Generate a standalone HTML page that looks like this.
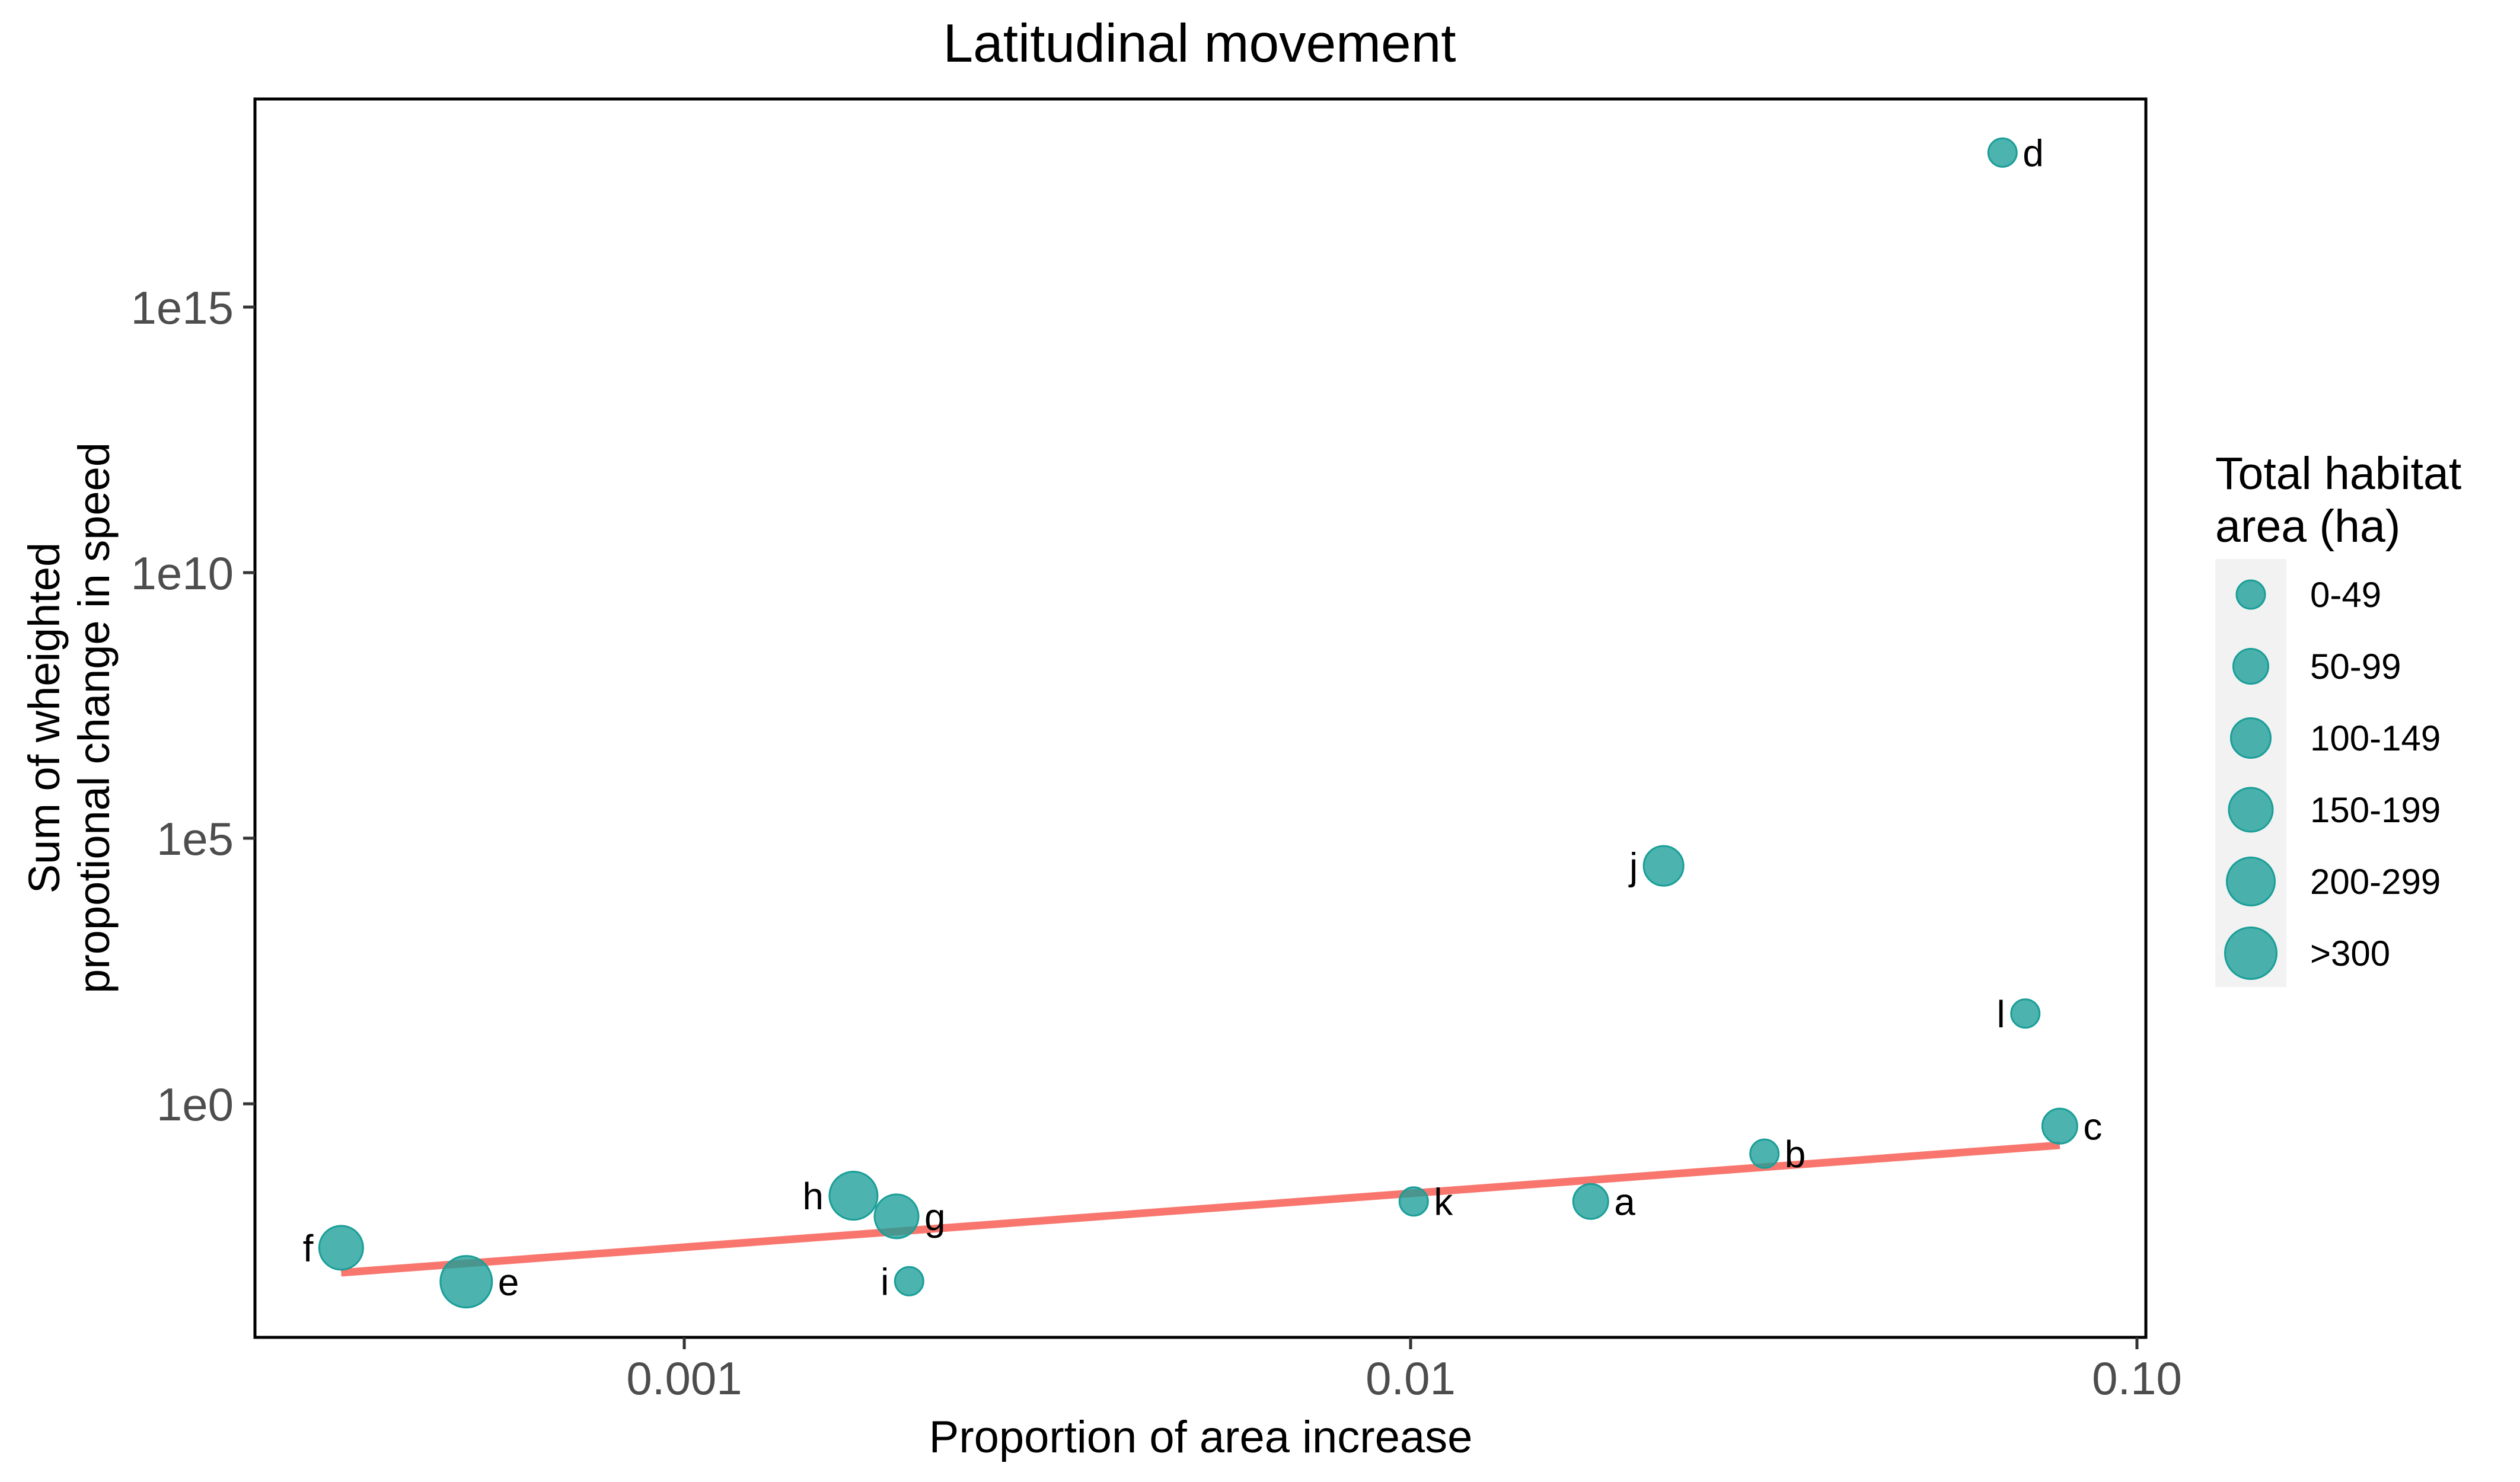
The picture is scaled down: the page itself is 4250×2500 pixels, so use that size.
<!DOCTYPE html>
<html><head><meta charset="utf-8"><style>
html,body{margin:0;padding:0;background:#fff;}
svg{display:block;font-family:"Liberation Sans",Arial,sans-serif;}
</style></head><body>
<svg id="chart" width="4250" height="2500" viewBox="0 0 4250 2500" xmlns="http://www.w3.org/2000/svg">
<rect x="0" y="0" width="4250" height="2500" fill="#fff"/>
<text x="2023" y="104" font-size="91" text-anchor="middle" fill="#000">Latitudinal movement</text>
<g id="marks"></g>
<rect x="430" y="167" width="3189" height="2089" fill="none" stroke="#000" stroke-width="5"/>
<g id="axes"></g>
<text x="2025" y="2450" font-size="76" text-anchor="middle" fill="#000">Proportion of area increase</text>
<g transform="translate(0,1211) rotate(-90)">
<text x="0" y="100" font-size="74" text-anchor="middle" fill="#000">Sum of wheighted</text>
<text x="0" y="184" font-size="74" text-anchor="middle" fill="#000">propotional change in speed</text>
</g>
<g id="legend">
<text x="3736" y="825" font-size="77" fill="#000">Total habitat</text>
<text x="3736" y="914" font-size="77" fill="#000">area (ha)</text>
<rect x="3736" y="943" width="120" height="722" fill="#f2f2f2"/>
</g>
<script>
const labels = ["a","b","c","d","e","f","g","h","i","j","k","l"];
const xValues = [0.0177,0.0307,0.0783,0.0653,0.000501,0.000337,0.00196,0.00171,0.00204,0.0223,0.0101,0.0702];
const yValues = [0.0145,0.115,0.38,8.1e17,4.47e-4,1.95e-3,7.6e-3,0.0186,4.57e-4,30200,0.0145,50];
const sizeClass = [1,0,1,0,5,3,3,4,0,2,0,0];
const labelSide = ["r","r","r","r","r","l","r","l","l","l","r","l"];
const sizeCategories = ["0-49","50-99","100-149","150-199","200-299",">300"];
const xTickValues = [0.001,0.01,0.1];
const xTickLabels = ["0.001","0.01","0.10"];
const yTickExponents = [0,5,10,15];
const yTickLabels = ["1e0","1e5","1e10","1e15"];
const trendX = [0.000337,0.0783];
const trendY = [10**-3.18,10**-0.78];

const NS="http://www.w3.org/2000/svg";
const radii=[24,29.5,33.5,37,40.5,43.5];
function sx(v){return 1154+(Math.log10(v)+3)*1225;}
function sy(v){return 1862-Math.log10(v)*89.6;}
function mk(tag,attrs,parent){const e=document.createElementNS(NS,tag);for(const k in attrs)e.setAttribute(k,attrs[k]);parent.appendChild(e);return e;}
const marks=document.getElementById('marks');
const axes=document.getElementById('axes');
const legend=document.getElementById('legend');

const tl=mk('line',{x1:sx(trendX[0]),y1:sy(trendY[0]),x2:sx(trendX[1]),y2:sy(trendY[1]),stroke:'#F8766D','stroke-width':13},marks);



labels.forEach((lab,i)=>{
  const cx=sx(xValues[i]),cy=sy(yValues[i]),r=radii[sizeClass[i]];
  const c=mk('circle',{cx:cx,cy:cy,r:r,fill:'#1a9e98','fill-opacity':0.78,stroke:'#1a9e98','stroke-width':3},marks);
  
  
  const right=labelSide[i]==='r';
  const t=mk('text',{x:right?cx+r+10:cx-r-10,y:cy+23,'font-size':64,'text-anchor':right?'start':'end',fill:'#000'},marks);
  t.textContent=lab;
  
  
});

xTickValues.forEach((v,i)=>{
  const x=sx(v);
  const tk=mk('line',{x1:x,y1:2256,x2:x,y2:2276,stroke:'#333','stroke-width':5},axes);
  
  
  const t=mk('text',{x:x,y:2352,'font-size':78,'text-anchor':'middle',fill:'#4d4d4d'},axes);
  t.textContent=xTickLabels[i];
  
  
});
yTickExponents.forEach((e,i)=>{
  const y=sy(10**e);
  const tk=mk('line',{x1:410,y1:y,x2:430,y2:y,stroke:'#333','stroke-width':5},axes);
  
  
  const t=mk('text',{x:394,y:y+28,'font-size':78,'text-anchor':'end',fill:'#4d4d4d'},axes);
  t.textContent=yTickLabels[i];
  
  
});

sizeCategories.forEach((cat,i)=>{
  const y=1003+i*121;
  const c=mk('circle',{cx:3796,cy:y,r:radii[i],fill:'#1a9e98','fill-opacity':0.78,stroke:'#1a9e98','stroke-width':3},legend);
  
  
  const t=mk('text',{x:3896,y:y+21,'font-size':60,fill:'#000'},legend);
  t.textContent=cat;
  
  
});
</script>
</svg>
</body></html>
